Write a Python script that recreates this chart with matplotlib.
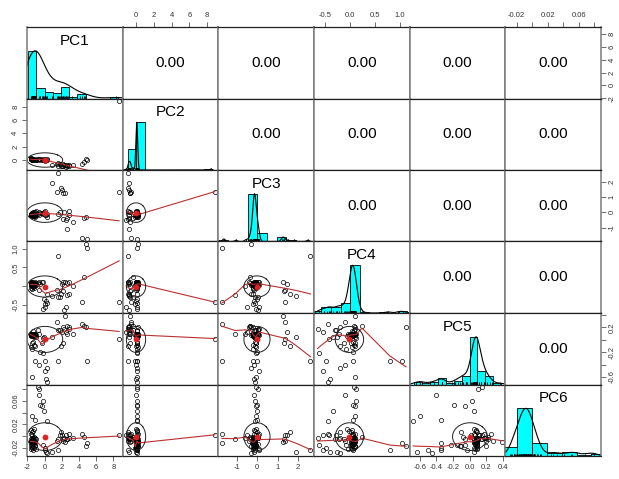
import numpy as np
import matplotlib
matplotlib.use("Agg")
import matplotlib.pyplot as plt

plt.rcParams['font.family'] = ['Liberation Sans Narrow', 'Liberation Sans', 'DejaVu Sans']

names = ["PC1", "PC2", "PC3", "PC4", "PC5", "PC6"]

# principal component scores, one entry per observation (same order in every list)
# groups: main cluster (41) | high PC6 (10) | low PC5 (5) | right group (11) | high PC3 (6) | single points (5)
pc1 = [-1.62, -1.60, -1.58, -1.57, -1.55, -1.54, -1.52, -1.51, -1.50, -1.49, -1.48, -1.47, -1.46,
       -1.45, -1.44, -1.43, -1.42, -1.41, -1.40, -1.38, -1.36, -1.35, -1.33, -1.31, -1.29, -1.27,
       -1.25, -1.23, -1.21, -1.19, -1.16, -1.14, -1.11, -1.08, -1.05, -1.02, -0.98,
       -1.56, -1.47, -1.39, -1.30,
       -1.4, 0.25, -1.1, -0.7, -0.6, -0.6, -0.5, -0.3, -0.2, -0.1,
       -0.2, 0.05, 0.1, 0.2, 0.3,
       1.6, 1.8, 2.1, 2.3, 2.5, 2.6, 2.8, 3.3, 4.3, 4.6, 2.9,
       0.86, 1.5, 1.9, 2.4, 2.0, 2.2,
       1.6, 4.9, 4.8, 2.6, 8.66]
pc2 = [0.24, 0.2, 0.22, 0.16, 0.19, 0.13, 0.18, 0.11, 0.15, 0.09, 0.14, 0.07, 0.12,
       0.05, 0.1, 0.04, 0.08, 0.02, 0.09, 0.03, 0.06, 0.01, 0.05, 0.02, 0.07, 0.0,
       0.04, -0.03, 0.03, 0.01, -0.05, 0.02, 0.0, -0.08, 0.01, 0.03, 0.0,
       0.18, 0.1, 0.06, 0.03,
       0.1, 0.05, 0.12, 0.08, 0.15, 0.03, 0.1, 0.06, 0.13, 0.04,
       0.05, -0.1, 0.08, -0.05, 0.1,
       -0.4, -0.65, -0.9, -0.75, -1.12, -0.85, -0.95, -0.7, -0.55, -0.35, -0.8,
       -0.8, -0.6, -0.95, -0.7, -0.85, -0.65,
       -0.9, 0.05, 0.2, -0.75, 8.85]
pc3 = [-0.12, -0.2, -0.08, -0.15, -0.15, -0.2, -0.1, -0.18, -0.05, -0.22, -0.14, -0.18, -0.02,
       -0.19, -0.11, -0.25, -0.07, -0.16, -0.14, 0.03, -0.13, -0.2, -0.09, -0.17, -0.17, 0.05,
       -0.21, -0.12, -0.21, -0.06, -0.15, -0.23, -0.1, -0.3, -0.18, 0.08, -0.14,
       -0.16, -0.09, -0.21, -0.13,
       -0.05, -0.12, 0.0, -0.08, 0.02, -0.15, -0.02, -0.06, -0.1, 0.01,
       -0.05, -0.2, 0.1, -0.15, -0.3,
       -0.1, 0.05, -0.4, 0.05, -0.5, -0.35, 0.07, -0.6, -1.7, -0.35, -0.2,
       1.9, 1.35, 1.6, 1.25, 1.45, 1.3,
       2.6, -1.73, -0.3, -1.09, 1.36]
pc4 = [0.08, 0.02, 0.03, 0.05, 0.06, -0.04, 0.1, 0.04, 0.02, 0.09, 0.07, 0.05, 0.01,
       -0.08, 0.07, 0.03, 0.04, 0.1, 0.01, 0.06, 0.06, 0.02, -0.02, 0.09, 0.04, 0.03,
       0.08, 0.01, 0.05, -0.06, 0.03, 0.07, 0.1, 0.02, 0.05, 0.04, 0.09,
       0.05, 0.08, 0.03, 0.06,
       0.1, -0.45, 0.05, 0.08, 0.12, -0.1, 0.05, 0.1, 0.12, -0.35,
       -0.62, -0.48, -0.55, -0.4, -0.2,
       -0.3, -0.28, 0.1, -0.65, -0.55, 0.08, 0.1, 0.0, -0.44, 0.24, -0.2,
       -0.27, -0.1, -0.2, 0.1, 0.05, -0.12,
       0.79, 1.03, 1.12, -0.23, -0.43]
pc5 = [0.08, 0.08, -0.12, 0.06, 0.09, 0.09, 0.07, 0.08, -0.05, 0.09, 0.09, 0.06, 0.085,
       -0.15, 0.08, 0.09, 0.07, 0.08, 0.09, 0.09, -0.03, 0.06, 0.08, 0.09, 0.14, 0.07,
       -0.08, 0.05, 0.09, 0.06, 0.09, 0.09, -0.1, 0.08, 0.085, 0.07, 0.05,
       0.07, 0.09, 0.06, 0.08,
       -0.6, -0.68, -0.35, 0.15, 0.1, -0.4, -0.19, -0.05, 0.03, 0.05,
       -0.22, -0.35, -0.5, -0.63, -0.45,
       0.15, 0.15, 0.2, 0.18, 0.12, 0.22, 0.18, 0.1, 0.26, 0.22, 0.2,
       0.05, 0.28, -0.1, 0.39, 0.12, -0.05,
       -0.35, -0.35, 0.2, 0.1, 0.02]
pc6 = [-0.012, -0.005, -0.018, 0.004, -0.01, -0.022, -0.008, 0.01, -0.015, -0.003, -0.02, -0.011, 0.006,
       -0.016, -0.007, -0.013, 0.002, -0.019, -0.009, -0.004, -0.025, -0.012, 0.008, -0.017, -0.006, -0.014,
       -0.002, -0.021, -0.01, 0.012, -0.015, -0.008, -0.018, -0.003, -0.011, -0.023, -0.006,
       -0.01, -0.014, -0.007, -0.012,
       0.034, 0.025, 0.028, 0.084, 0.08, 0.071, 0.054, 0.052, 0.06, 0.043,
       -0.015, -0.02, -0.025, -0.028, -0.03,
       -0.005, 0.002, -0.008, -0.003, 0.001, -0.006, 0.003, -0.004, 0.003, -0.002, -0.004,
       -0.027, -0.008, 0.006, -0.011, 0.002, -0.006,
       -0.024, -0.012, -0.018, -0.005, 0.002]

# correlations printed in the upper panels (row by row)
r_upper = [0.00, 0.00, 0.00, 0.00, 0.00,
           0.00, 0.00, 0.00, 0.00,
           0.00, 0.00, 0.00,
           0.00, 0.00,
           0.00]

# histogram bin widths and axis ticks for each component
bin_step = [1, 1, 0.5, 0.2, 0.1, 0.02]
tick_vals = [[-2, 0, 2, 4, 6, 8], [0, 2, 4, 6, 8], [-1, 0, 1, 2], [-0.5, 0.0, 0.5, 1.0],
             [-0.6, -0.4, -0.2, 0.0, 0.2, 0.4], [-0.02, 0.0, 0.02, 0.04, 0.06, 0.08]]
tick_labs_x = [["-2", "0", "2", "4", "6", "8"], ["0", "2", "4", "6", "8"], ["-1", "0", "1", "2"],
               ["-0.5", "0.0", "0.5", "1.0"], ["-0.6", "-0.4", "-0.2", "0.0", "0.2", "0.4"],
               ["-0.02", "", "0.02", "", "0.06", ""]]
tick_labs_y = [["-2", "0", "2", "4", "6", "8"], ["0", "2", "4", "6", "8"], ["-1", "0", "1", "2"],
               ["-0.5", "", "0.5", "1.0"], ["-0.6", "", "-0.2", "", "0.2", ""],
               ["-0.02", "", "0.02", "", "0.06", ""]]

scores = [np.array(v, dtype=float) for v in (pc1, pc2, pc3, pc4, pc5, pc6)]
nv = len(scores)


def lowess(x, y, f=2 / 3, iters=3):
    # R's lowess(): local linear fit with tricube weights + robustness iterations
    o = np.argsort(x, kind="mergesort")
    xs, ys = x[o], y[o]
    n = len(xs)
    ns = max(2, min(n, int(f * n + 1e-7)))
    rw = np.ones(n)
    fit = np.zeros(n)
    rng = xs[-1] - xs[0]
    for it in range(iters + 1):
        for i in range(n):
            d = np.abs(xs - xs[i])
            h = max(np.partition(d, ns - 1)[ns - 1], 1e-12)
            u = d / h
            w = np.where(u < 0.999, (1 - u ** 3) ** 3, 0.0)
            w[u < 0.001] = 1.0
            w = w * rw
            if w.sum() <= 0:
                fit[i] = ys[i]
                continue
            w = w / w.sum()
            xm = np.sum(w * xs)
            c = np.sum(w * (xs - xm) ** 2)
            if np.sqrt(c) > 0.001 * rng:
                w = w * ((xs[i] - xm) * (xs - xm) / c + 1)
            fit[i] = np.sum(w * ys)
        if it == iters:
            break
        res = ys - fit
        cmad = 6 * np.median(np.abs(res))
        if cmad < 1e-7 * np.mean(np.abs(ys)):
            break
        r = np.abs(res) / cmad
        rw = np.where(r < 0.001, 1.0, np.where(r > 0.999, 0.0, (1 - r ** 2) ** 2))
    return xs, fit


def density(x):
    # density(x, bw = "nrd", adjust = 1.2), rescaled to a maximum of 1
    n = len(x)
    q75, q25 = np.percentile(x, [75, 25])
    bw = 1.06 * min(np.std(x, ddof=1), (q75 - q25) / 1.34) * n ** -0.2 * 1.2
    g = np.linspace(x.min() - 3 * bw, x.max() + 3 * bw, 512)
    d = np.exp(-0.5 * ((g[:, None] - x[None, :]) / bw) ** 2).sum(axis=1)
    return g, d / d.max()


lims = []
for v in scores:
    span = v.max() - v.min()
    lims.append((v.min() - 0.04 * span, v.max() + 0.04 * span))

fig, axes = plt.subplots(nv, nv, figsize=(6.19, 4.79), dpi=100,
                         gridspec_kw=dict(wspace=0, hspace=0))
fig.subplots_adjust(left=27 / 619, right=601 / 619, bottom=1 - 456 / 479, top=1 - 27 / 479)

k = 0
for i in range(nv):
    for j in range(nv):
        ax = axes[i, j]
        ax.set_xticks([])
        ax.set_yticks([])
        for side in ("left", "right"):
            ax.spines[side].set_color("#7a7a7a")
            ax.spines[side].set_linewidth(1.1)
        for side in ("top", "bottom"):
            ax.spines[side].set_color("#202020")
            ax.spines[side].set_linewidth(0.9)
        xv, yv = scores[j], scores[i]
        ax.set_xlim(lims[j])
        if i == j:
            lo, hi = lims[i]
            ax.set_xlim(lo - abs(0.05 * lo), hi + abs(0.05 * hi))
            step = bin_step[i]
            b0 = np.floor(round(xv.min() / step, 8)) * step
            b1 = np.ceil(round(xv.max() / step, 8)) * step
            edges = np.arange(b0, b1 + step / 2, step)
            counts, edges = np.histogram(xv, bins=edges)
            ax.bar(edges[:-1], counts / counts.max(), width=np.diff(edges), align="edge",
                   color="#00ffff", edgecolor="black", linewidth=0.6)
            g, d = density(xv)
            ax.plot(g, d, color="black", lw=0.8)
            ax.vlines(xv, 0, 0.045, color="black", lw=0.6)
            ax.set_ylim(0, 1.5)
            ax.text(0.5, 0.81, names[i], transform=ax.transAxes, ha="center", va="center",
                    fontsize=11)
        elif i < j:
            ax.set_ylim(lims[i])
            ax.text(0.5, 0.5, "%.2f" % r_upper[k], transform=ax.transAxes, ha="center",
                    va="center", fontsize=11)
            k += 1
        else:
            ax.set_ylim(lims[i])
            ax.plot(xv, yv, "o", ms=3.0, mfc="none", mec="black", mew=0.5)
            lx, ly = lowess(xv, yv)
            ax.plot(lx, ly, color="#b83030", lw=0.8)
            # correlation ellipse (1 sd) and mean point, as psych::pairs.panels
            r = r_upper[0]
            th = np.sign(r) / np.sqrt(2) if abs(r) > 0 else 1 / np.sqrt(2)
            shape = np.diag([np.sqrt(1 + r), np.sqrt(1 - r)]) @ np.array([[th, th], [-th, th]])
            ang = np.arange(52) * 2 * np.pi / 51
            ell = np.column_stack([np.cos(ang), np.sin(ang)]) @ shape
            ax.plot(ell[:, 0] * xv.std(ddof=1) + xv.mean(), ell[:, 1] * yv.std(ddof=1) + yv.mean(),
                    color="#202020", lw=0.7)
            ax.plot(xv.mean(), yv.mean(), "o", ms=4.2, color="#dd2222", mec="none")

        ax.tick_params(which="both", direction="out", length=3.5, width=0.5, labelsize=5.5,
                       pad=2, colors="#333333")
        # outer axes alternate sides like R's pairs()
        if i == 0 and j % 2 == 1:
            ax.set_xticks(tick_vals[j])
            ax.set_xticklabels(tick_labs_x[j])
            ax.tick_params(axis="x", top=True, bottom=False, labeltop=True, labelbottom=False)
        if i == nv - 1 and j % 2 == 0:
            ax.set_xticks(tick_vals[j])
            ax.set_xticklabels(tick_labs_x[j])
        if j == 0 and i % 2 == 1:
            ax.set_yticks(tick_vals[i])
            ax.set_yticklabels(tick_labs_y[i], rotation=90, va="center")
        if j == nv - 1 and i % 2 == 0:
            ax.set_yticks(tick_vals[i])
            ax.set_yticklabels(tick_labs_y[i], rotation=90, va="center")
            ax.tick_params(axis="y", right=True, left=False, labelright=True, labelleft=False)

fig.savefig("out.png", dpi=100)
